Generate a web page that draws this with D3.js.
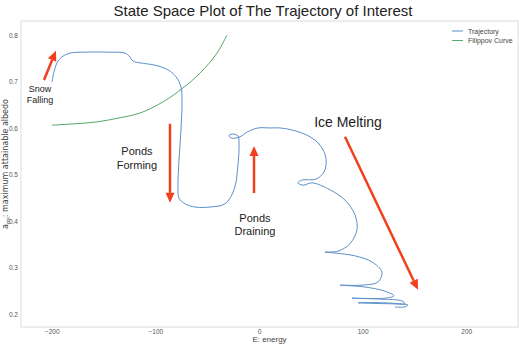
<!DOCTYPE html>
<html>
<head>
<meta charset="utf-8">
<script src="https://cdn.jsdelivr.net/npm/d3@7"></script>
<style>
  body { margin: 0; background: #fff; }
  text { font-family: "Liberation Sans", Arial, sans-serif; }
</style>
</head>
<body>
<div id="chart"></div>
<script>
// trajectory (E, albedo)
var trajE = [-199.8, -197.9, -195, -190.2, -182.4, -168, -143.8, -129.3, -125.5, -121.6, -114.9, -100.4, -87.8, -80.1, -75.3, -74.3, -75.3, -77.2, -78.2, -77.2, -71.4, -61.8, -47.3, -32.8, -24.1, -20.3, -19.3,
  -20.3, -26.1, -29, -26.1, -18.3, -11.6, -1, 10.6, 20.3, 34.7, 49.2, 58.9, 64.7, 62.7, 55,
  41.5, 37.6, 42.5, 51.2, 68.5, 83, 92.7, 94.6, 87.8, 76.3, 63.7, 73.4, 92.7, 109, 118.7, 114.9, 99.4, 78.2,
  102.3, 121.6, 130.3, 121.6, 89.8, 116.8, 138, 140.9, 126.4, 95.6, 121.6, 143.8, 139.9, 131.3];
var trajA = [0.699, 0.720, 0.740, 0.753, 0.761, 0.763, 0.763, 0.761, 0.755, 0.744, 0.740, 0.735, 0.725, 0.710, 0.688, 0.660, 0.596, 0.531, 0.473, 0.449, 0.437, 0.430, 0.430, 0.437, 0.467, 0.520, 0.570,
  0.583, 0.587, 0.583, 0.578, 0.581, 0.591, 0.600, 0.600, 0.600, 0.594, 0.581, 0.563, 0.535, 0.505, 0.490,
  0.488, 0.482, 0.477, 0.482, 0.467, 0.445, 0.413, 0.381, 0.351, 0.335, 0.333, 0.331, 0.325, 0.312, 0.290, 0.269, 0.262, 0.262,
  0.258, 0.249, 0.239, 0.234, 0.234, 0.232, 0.228, 0.222, 0.222, 0.224, 0.224, 0.219, 0.215, 0.215];

// Filippov curve
var filE = [-199.8, -177.6, -156.4, -134.2, -114.9, -92.7, -73.4, -56.9, -40.5, -30.9];
var filA = [0.606, 0.609, 0.613, 0.622, 0.632, 0.656, 0.686, 0.718, 0.761, 0.800];

var xTicks = [-200, -100, 0, 100, 200];
var yTicks = [0.2, 0.3, 0.4, 0.5, 0.6, 0.7, 0.8];

// arrows: [E tail, a tail, E head, a head]
var arrows = [
  [-207.5, 0.703, -196, 0.766],
  [-85.9, 0.609, -85.9, 0.439],
  [-4.8, 0.460, -4.8, 0.561],
  [83, 0.581, 153.5, 0.252]
];
var notes = [
  {lines: ["Snow", "Falling"], E: -211.4, a: 0.677, size: 9},
  {lines: ["Ponds", "Forming"], E: -117.8, a: 0.541, size: 11},
  {lines: ["Ponds", "Draining"], E: -3.9, a: 0.398, size: 11},
  {lines: ["Ice Melting"], E: 85.9, a: 0.601, size: 14}
];

var W = 527, H = 349;
var margin = {top: 21, right: 9, bottom: 22, left: 21},
    width = W - margin.left - margin.right,
    height = H - margin.top - margin.bottom;

var svg = d3.select("#chart").append("svg")
    .attr("width", W).attr("height", H);

svg.append("text")
  .attr("x", 263).attr("y", 16)
  .attr("text-anchor", "middle")
  .style("font-size", "15px").style("fill", "#222")
  .text("State Space Plot of The Trajectory of Interest");

var g = svg.append("g")
  .attr("transform", "translate(" + margin.left + "," + margin.top + ")");

var x = d3.scaleLinear().domain([-229.7, 250]).range([0, width]);
var y = d3.scaleLinear().domain([0.172, 0.830]).range([height, 0]);

g.append("rect")
  .attr("width", width).attr("height", height)
  .attr("fill", "none").attr("stroke", "#dcdcdc").attr("stroke-width", 1);

var xAxis = g.append("g")
  .attr("transform", "translate(0," + height + ")")
  .call(d3.axisBottom(x).tickValues(xTicks).tickSize(0).tickPadding(2)
    .tickFormat(function(d) { return d < 0 ? "\u2212" + Math.abs(d) : d; }));
var yAxis = g.append("g")
  .call(d3.axisLeft(y).tickValues(yTicks).tickSize(0).tickPadding(3).tickFormat(d3.format(".1f")));
[xAxis, yAxis].forEach(function(a) {
  a.select(".domain").remove();
  a.selectAll("text").style("font-size", "6.5px").style("fill", "#555");
});

svg.append("text")
  .attr("x", margin.left + width / 2).attr("y", 342)
  .attr("text-anchor", "middle")
  .style("font-size", "8px").style("fill", "#444")
  .text("E: energy");

svg.append("text")
  .attr("transform", "translate(8," + (margin.top + height / 2 - 10) + ") rotate(-90)")
  .attr("text-anchor", "middle")
  .style("font-size", "8px").style("fill", "#444")
  .style("font-family", "'DejaVu Sans', sans-serif")
  .html("a<tspan dy='2' font-size='5.5px'>mi</tspan><tspan dy='-2'>: maximum attainable albedo</tspan>");

var line = d3.line()
  .x(function(d) { return x(d[0]); })
  .y(function(d) { return y(d[1]); })
  .curve(d3.curveCatmullRom.alpha(0.5));

g.append("path")
  .datum(filE.map(function(e, i) { return [e, filA[i]]; }))
  .attr("d", line)
  .attr("fill", "none").attr("stroke", "#55a868").attr("stroke-width", 1);

g.append("path")
  .datum(trajE.map(function(e, i) { return [e, trajA[i]]; }))
  .attr("d", line)
  .attr("fill", "none").attr("stroke", "#5b8fc9").attr("stroke-width", 1);

// red annotation arrows
var red = "#f2401e";
arrows.forEach(function(a) {
  var x1 = x(a[0]), y1 = y(a[1]), x2 = x(a[2]), y2 = y(a[3]);
  var ang = Math.atan2(y2 - y1, x2 - x1);
  var hl = 10, hw = 4.5;
  var bx = x2 - hl * Math.cos(ang), by = y2 - hl * Math.sin(ang);
  g.append("line")
    .attr("x1", x1).attr("y1", y1).attr("x2", bx).attr("y2", by)
    .attr("stroke", red).attr("stroke-width", 2.5);
  var px = -Math.sin(ang) * hw, py = Math.cos(ang) * hw;
  g.append("path")
    .attr("d", "M" + x2 + "," + y2 + "L" + (bx + px) + "," + (by + py) + "L" + (bx - px) + "," + (by - py) + "Z")
    .attr("fill", red);
});

notes.forEach(function(n) {
  var t = g.append("text")
    .attr("x", x(n.E)).attr("y", y(n.a))
    .attr("text-anchor", "middle")
    .style("font-size", n.size + "px").style("fill", "#222");
  n.lines.forEach(function(l, i) {
    t.append("tspan").attr("x", x(n.E)).attr("dy", i === 0 ? 0 : "1.2em").text(l);
  });
});

// legend
var legend = [["Trajectory", "#5b8fc9"], ["Filippov Curve", "#55a868"]];
legend.forEach(function(l, i) {
  var ly = 31 + i * 9.5;
  svg.append("line").attr("x1", 452).attr("x2", 463).attr("y1", ly).attr("y2", ly)
    .attr("stroke", l[1]).attr("stroke-width", 1);
  svg.append("text").attr("x", 468).attr("y", ly + 2.5)
    .style("font-size", "7px").style("fill", "#444")
    .text(l[0]);
});
</script>
</body>
</html>
